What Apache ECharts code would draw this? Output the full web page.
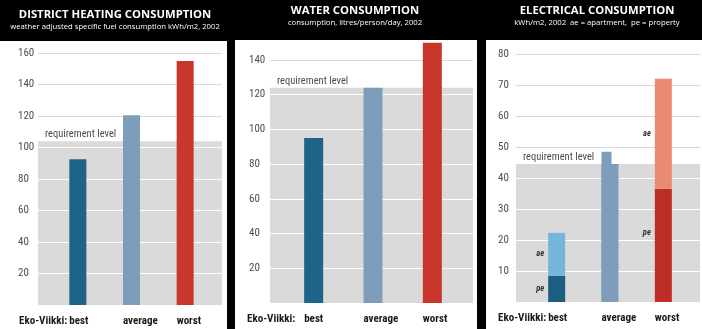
<!DOCTYPE html>
<html>
<head>
<meta charset="utf-8">
<script src="https://cdn.jsdelivr.net/npm/echarts@6/dist/echarts.min.js"></script>
<style>
html, body { margin: 0; padding: 0; background: #000; }
#chart { width: 702px; height: 329px; }
</style>
</head>
<body>
<div id="chart"></div>
<script>
// categories shared by the three panels
var categories = ['best', 'average', 'worst']

// district heating, kWh/m2
var heatValues = [92.5, 120.5, 155]
var heatRequirement = 104
var heatTicks = [0, 20, 40, 60, 80, 100, 120, 140, 160]

// water, litres/person/day
var waterValues = [95, 124, 150]
var waterRequirement = 124
var waterTicks = [0, 20, 40, 60, 80, 100, 120, 140]

// electricity, kWh/m2 (pe = property part, total = pe + ae)
var elecPe = [8.5, 44.5, 36.5]
var elecTotal = [22.3, null, 72]
var elecAverageNotch = 48.5
var elecRequirement = 44.5
var elecTicks = [0, 10, 20, 30, 40, 50, 60, 70, 80]

// condensed Roboto stands in for the narrow Helvetica of the original
var FONT = 'Roboto, sans-serif'
var barColors = ['#1e6388', '#7d9dbb', '#c9372c']
var peColors = ['#1b5e80', '#7d9dbb', '#bf2d27']
var aeColors = ['#76b6d9', '#7d9dbb', '#ea8b71']

var chart = echarts.init(document.getElementById('chart'))

var grids = []
var xAxes = []
var yAxes = []
var series = []

// one panel = a wide grid for gridlines + band, and a narrower grid for the bars
function panel (p) {
  var gA = grids.length
  grids.push({ left: p.left, width: p.width, top: p.top, height: p.height })
  grids.push({ left: p.barLeft, width: p.barWidthGrid, top: p.top, height: p.height })
  var ticks = p.ticks
  var interval = ticks[1] - ticks[0]
  var max = ticks[ticks.length - 1]
  var lineColors = ticks.map(function (t) {
    return t < p.req ? '#ffffff' : '#d9d9d9'
  })

  var xA = xAxes.length
  xAxes.push({
    gridIndex: gA,
    type: 'category',
    data: [''],
    axisLine: { show: false },
    axisTick: { show: false },
    axisLabel: { show: false },
    name: 'Eko-Viikki:',
    nameLocation: 'start',
    nameGap: p.nameGap,
    nameTextStyle: {
      align: 'left',
      verticalAlign: 'top',
      padding: [11, 0, 0, 0],
      color: '#1a1a1a',
      fontWeight: 'bold condensed',
      fontSize: 11,
      fontFamily: FONT
    }
  })
  xAxes.push({
    gridIndex: gA + 1,
    type: 'category',
    data: categories,
    axisLine: { show: false },
    axisTick: { show: false },
    axisLabel: {
      interval: 0,
      margin: 11,
      align: 'left',
      padding: [0, 0, 0, -p.bar / 2],
      color: '#1a1a1a',
      fontWeight: 'bold condensed',
      fontSize: 11,
      fontFamily: FONT
    }
  })
  var yA = yAxes.length
  yAxes.push({
    gridIndex: gA,
    type: 'value',
    min: 0,
    max: max,
    interval: interval,
    axisLine: { show: false },
    axisTick: { show: false },
    axisLabel: {
      align: 'left',
      margin: p.labelMargin,
      color: '#4d4d4d',
      fontWeight: 'normal condensed',
      fontSize: 11,
      fontFamily: FONT,
      showMinLabel: false
    },
    splitLine: { lineStyle: { color: lineColors, width: 1 } }
  })
  yAxes.push({
    gridIndex: gA + 1,
    type: 'value',
    min: 0,
    max: max,
    interval: interval,
    show: false
  })

  // requirement level band
  series.push({
    type: 'line',
    xAxisIndex: xA,
    yAxisIndex: yA,
    data: [],
    markArea: {
      silent: true,
      z: -1,
      itemStyle: { color: '#dadada' },
      label: {
        show: true,
        position: [7, -12],
        color: '#4d4d4d',
        fontWeight: 'normal condensed',
        fontSize: 10.5,
        fontFamily: FONT
      },
      data: [[{ yAxis: 0, name: 'requirement level' }, { yAxis: p.req }]]
    }
  })
  return { x: xA + 1, y: yA + 1, grid: gA + 1 }
}

var p1 = panel({
  left: 38, width: 184, top: 53, height: 252,
  barLeft: 51, barWidthGrid: 161, bar: 17,
  ticks: heatTicks, req: heatRequirement, nameGap: 19, labelMargin: 20
})
series.push({
  type: 'bar',
  xAxisIndex: p1.x,
  yAxisIndex: p1.y,
  barWidth: 17,
  clip: false,
  data: heatValues.map(function (v, i) {
    return { value: v, itemStyle: { color: barColors[i] } }
  })
})

var p2 = panel({
  left: 270, width: 203, top: 60, height: 243,
  barLeft: 284, barWidthGrid: 178, bar: 19,
  ticks: waterTicks, req: waterRequirement, nameGap: 23, labelMargin: 21
})
series.push({
  type: 'bar',
  xAxisIndex: p2.x,
  yAxisIndex: p2.y,
  barWidth: 19,
  clip: false,
  data: waterValues.map(function (v, i) {
    return { value: v, itemStyle: { color: barColors[i] } }
  })
})

var p3 = panel({
  left: 516, width: 184, top: 54, height: 248,
  barLeft: 530, barWidthGrid: 160, bar: 17,
  ticks: elecTicks, req: elecRequirement, nameGap: 18, labelMargin: 18
})
var segLabel = {
  show: true,
  position: 'left',
  distance: 4,
  color: '#333',
  fontSize: 8.5,
  fontStyle: 'italic',
  fontWeight: 'bold condensed',
  fontFamily: FONT
}
series.push({
  name: 'pe',
  type: 'bar',
  stack: 'elec',
  xAxisIndex: p3.x,
  yAxisIndex: p3.y,
  barWidth: 17,
  label: Object.assign({}, segLabel, { formatter: 'pe' }),
  data: elecPe.map(function (v, i) {
    var item = { value: v, itemStyle: { color: peColors[i] } }
    if (elecTotal[i] == null) item.label = { show: false }
    if (i === 2) item.label = { offset: [0, -13] }
    return item
  })
})
series.push({
  name: 'ae',
  type: 'bar',
  stack: 'elec',
  xAxisIndex: p3.x,
  yAxisIndex: p3.y,
  barWidth: 17,
  label: Object.assign({}, segLabel, { formatter: 'ae' }),
  data: elecTotal.map(function (t, i) {
    if (t == null) return '-'
    return { value: t - elecPe[i], itemStyle: { color: aeColors[i] } }
  })
})
// the taller left part of the average bar sits on its own hidden axis
var notchX = xAxes.length
xAxes.push({ gridIndex: p3.grid, type: 'category', data: categories, show: false })
series.push({
  type: 'bar',
  xAxisIndex: notchX,
  yAxisIndex: p3.y,
  barWidth: 10,
  barGap: 0,
  data: categories.map(function (c, i) {
    return i === 1 ? { value: elecAverageNotch, itemStyle: { color: barColors[1] } } : '-'
  })
})
series.push({
  type: 'bar',
  xAxisIndex: notchX,
  yAxisIndex: p3.y,
  barWidth: 7,
  data: ['-', '-', '-']
})

function header (x, y, text, size, weight) {
  return {
    type: 'text',
    x: x,
    y: y,
    z: 10,
    style: {
      text: text,
      fill: '#fff',
      align: 'center',
      verticalAlign: 'middle',
      font: weight + ' ' + size + 'px "Open Sans", sans-serif'
    }
  }
}

chart.setOption({
  backgroundColor: '#000',
  animation: false,
  graphic: [
    { type: 'rect', z: -5, shape: { x: 0, y: 41, width: 227, height: 288 }, style: { fill: '#fff' } },
    { type: 'rect', z: -5, shape: { x: 235, y: 40, width: 242, height: 289 }, style: { fill: '#fff' } },
    { type: 'rect', z: -5, shape: { x: 486, y: 40, width: 216, height: 289 }, style: { fill: '#fff' } },
    header(115, 15, 'DISTRICT HEATING CONSUMPTION', 11.3, 'bold'),
    header(115, 26.5, 'weather adjusted specific fuel consumption kWh/m2, 2002', 7.7, 'normal'),
    header(355, 11, 'WATER CONSUMPTION', 11.3, 'bold'),
    header(355, 23, 'consumption, litres/person/day, 2002', 7.7, 'normal'),
    header(597, 11, 'ELECTRICAL CONSUMPTION', 11.3, 'bold'),
    header(597, 23, 'kWh/m2, 2002  ae = apartment,  pe = property', 7.7, 'normal')
  ],
  grid: grids,
  xAxis: xAxes,
  yAxis: yAxes,
  series: series
})
</script>
</body>
</html>
